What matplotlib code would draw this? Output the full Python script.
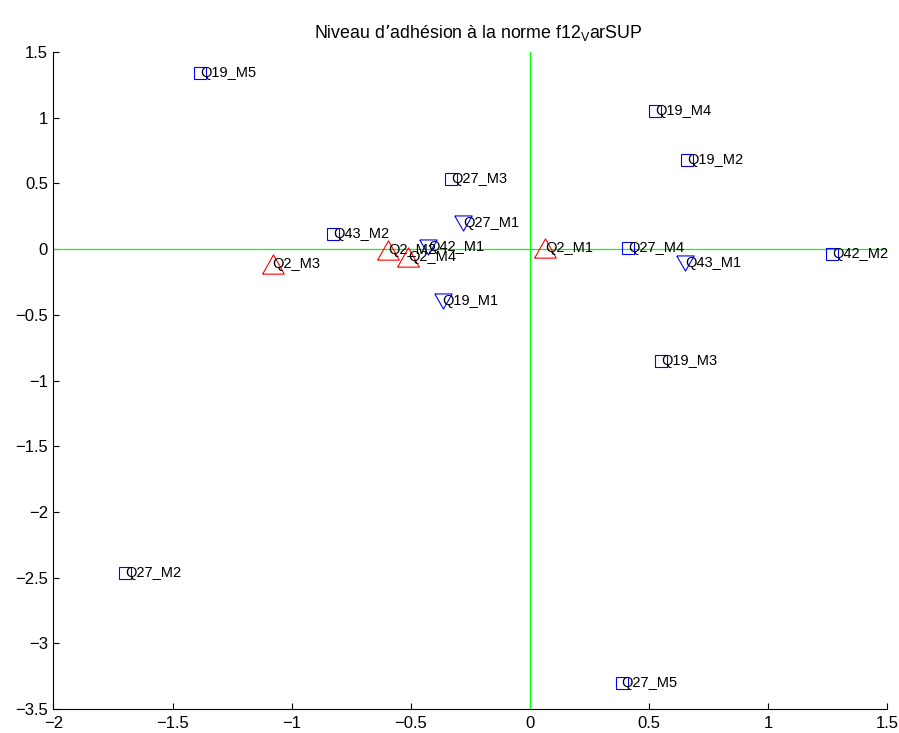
import numpy as np
import matplotlib
matplotlib.use("Agg")
import matplotlib.pyplot as plt

plt.rcParams['font.family'] = ['Liberation Sans', 'DejaVu Sans']

# squares (blue)
sq_labels = ['Q19_M5', 'Q19_M4', 'Q19_M2', 'Q27_M3', 'Q43_M2', 'Q27_M4',
             'Q42_M2', 'Q19_M3', 'Q27_M2', 'Q27_M5']
sq_x = [-1.385, 0.526, 0.661, -0.331, -0.825, 0.414, 1.268, 0.550, -1.699, 0.386]
sq_y = [1.343, 1.054, 0.675, 0.535, 0.119, 0.011, -0.034, -0.852, -2.467, -3.305]

# down triangles (blue)
dn_labels = ['Q27_M1', 'Q42_M1', 'Q43_M1', 'Q19_M1']
dn_x = [-0.281, -0.428, 0.652, -0.366]
dn_y = [0.202, 0.015, -0.104, -0.396]

# up triangles (red)
up_labels = ['Q2_M1', 'Q2_M2', 'Q2_M4', 'Q2_M3']
up_x = [0.064, -0.596, -0.510, -1.080]
up_y = [0.005, -0.010, -0.059, -0.113]

xticks = np.arange(-2, 1.51, 0.5)
yticks = np.arange(-3.5, 1.51, 0.5)

tri_up = [(-1, -0.89), (1, -0.89), (0, 0.89), (-1, -0.89)]
tri_dn = [(-1, 0.87), (1, 0.87), (0, -0.87), (-1, 0.87)]

fig = plt.figure(figsize=(8.99, 7.33), dpi=100)
ax = fig.add_axes([0.0595, 0.0327, 0.9272, 0.8963])

ax.plot([-2, 1.5], [0, 0], color='#00ff00', lw=0.9)
ax.plot([0, 0], [-3.5, 1.5], color='#00ff00', lw=0.9)

ax.plot(sq_x, sq_y, ls='none', marker='s', ms=8.6, mfc='none', mec='b', mew=0.8)
ax.plot(dn_x, dn_y, ls='none', marker=tri_dn, ms=12.5, mfc='none', mec='b', mew=0.8)
ax.plot(up_x, up_y, ls='none', marker=tri_up, ms=15.6, mfc='none', mec='r', mew=0.8)

for labs, xs, ys in [(sq_labels, sq_x, sq_y), (dn_labels, dn_x, dn_y), (up_labels, up_x, up_y)]:
    for t, x, y in zip(labs, xs, ys):
        ax.text(x, y, t, ha='left', va='center', fontsize=10.5)

def fmt(v):
    return ('%g' % v).replace('-', '\u2212')

ax.set_xlim(-2, 1.5)
ax.set_ylim(-3.5, 1.5)
ax.set_xticks(xticks)
ax.set_yticks(yticks)
ax.set_xticklabels([fmt(v) for v in xticks])
ax.set_yticklabels([fmt(v) for v in yticks])
ax.tick_params(direction='in', length=4.3, width=0.8, labelsize=12)
ax.tick_params(axis='x', pad=5)
ax.tick_params(axis='y', pad=4)
for s in ['top', 'right']:
    ax.spines[s].set_visible(False)
for s in ['left', 'bottom']:
    ax.spines[s].set_linewidth(0.8)

ax.set_title('Niveau d\u2019adhésion à la norme f12$_\\mathregular{V}$arSUP',
             fontsize=12.8, pad=10, x=0.51)

fig.savefig('out.png', dpi=100)
